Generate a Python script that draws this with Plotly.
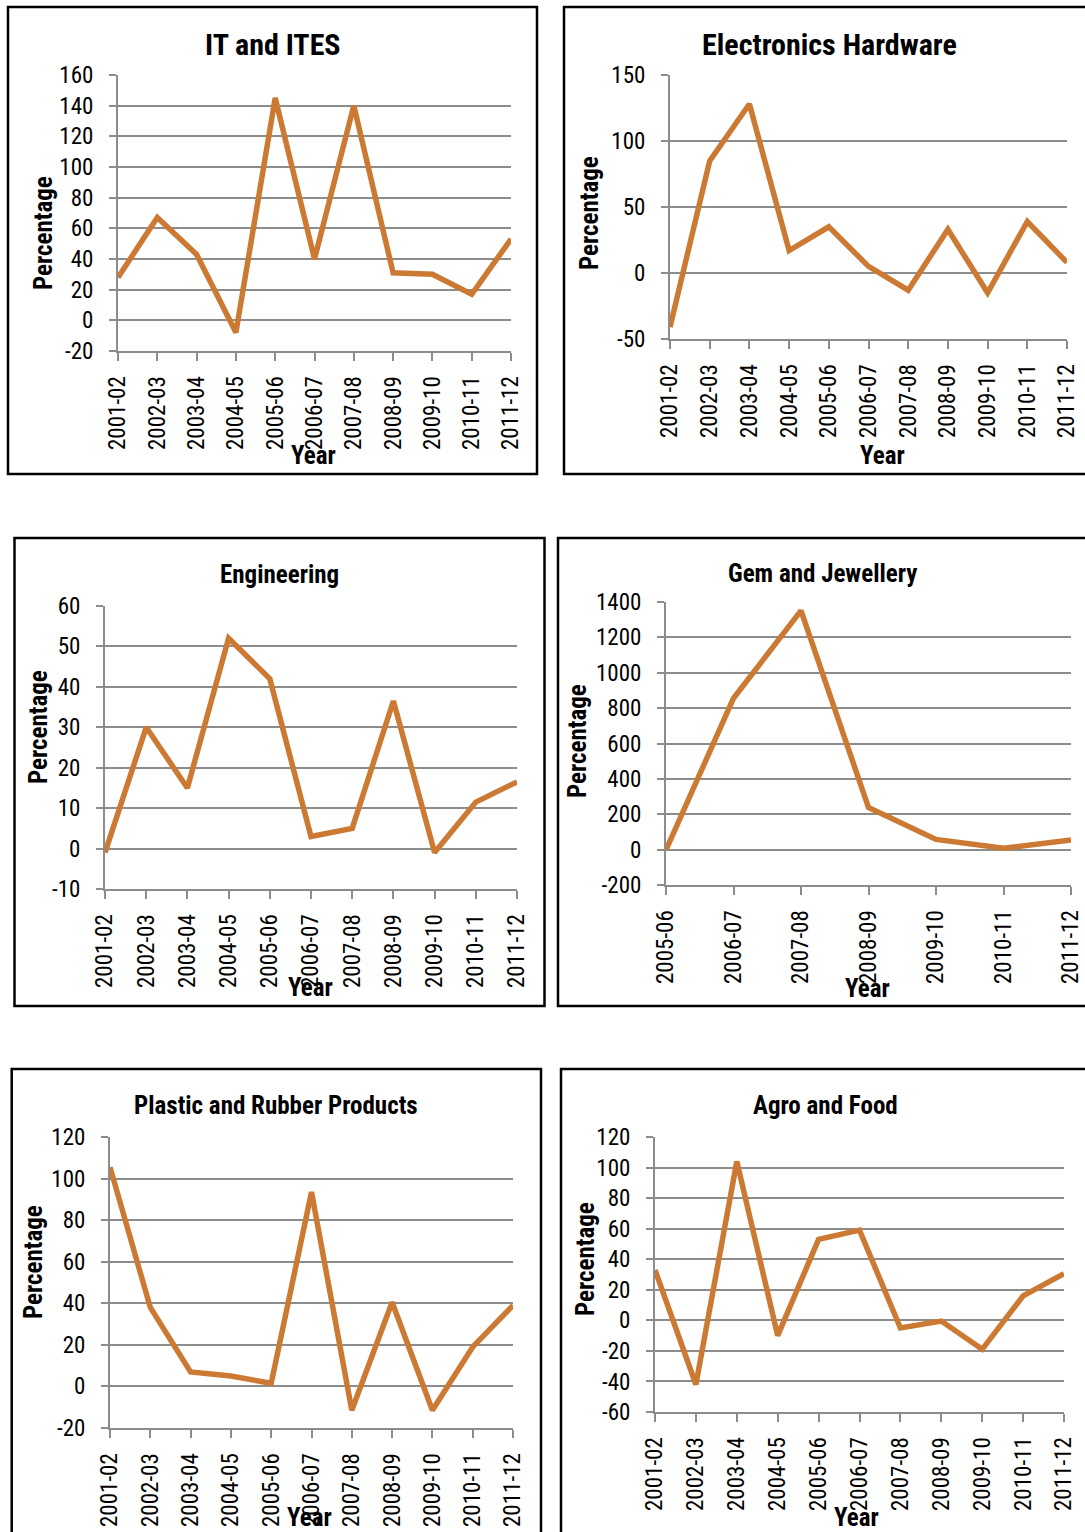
import plotly.graph_objects as go

# ---- data -------------------------------------------------------------
years = ["2001-02", "2002-03", "2003-04", "2004-05", "2005-06", "2006-07",
         "2007-08", "2008-09", "2009-10", "2010-11", "2011-12"]
years_gem = ["2005-06", "2006-07", "2007-08", "2008-09", "2009-10",
             "2010-11", "2011-12"]

it_ites = [28, 67, 43, -8, 145, 40, 140, 31, 30, 17, 53]
electronics_hw = [-41, 85, 128, 17, 35, 5, -13, 33, -15, 39, 8]
engineering = [-1, 30, 15, 52, 42, 3, 5, 36.5, -1, 11.5, 16.5]
gem_jewellery = [-2, 856, 1351, 238, 58, 8, 55]
plastic_rubber = [105.5, 38, 7, 5, 1.5, 93.5, -11.5, 40.5, -11.5, 19, 39]
agro_food = [33, -42, 104, -10, 53, 59, -5, -0.5, -19, 16, 30.5]

titles = ["IT and ITES", "Electronics Hardware", "Engineering",
          "Gem and Jewellery", "Plastic and Rubber Products", "Agro and Food"]

# y-axis tick values per panel (labels use a plain hyphen for negatives)
yticks_it = [-20, 0, 20, 40, 60, 80, 100, 120, 140, 160]
yticks_elec = [-50, 0, 50, 100, 150]
yticks_eng = [-10, 0, 10, 20, 30, 40, 50, 60]
yticks_gem = [-200, 0, 200, 400, 600, 800, 1000, 1200, 1400]
yticks_plastic = [-20, 0, 20, 40, 60, 80, 100, 120]
yticks_agro = [-60, -40, -20, 0, 20, 40, 60, 80, 100, 120]

# ---- page geometry (pixels) -------------------------------------------
W, H = 1085, 1532
FONT = "Roboto Condensed, Open Sans Condensed, DejaVu Sans Condensed, sans-serif"
LINE = "#CC7A33"
GRID = "#8C8C8C"


def fx(x):
    return x / W


def fy(y):
    return 1 - y / H


panels = [
    dict(cats=years, vals=it_ites, yt=yticks_it,
         plot=(118, 511, 75, 351), box=(8, 7, 537, 474),
         title=(273, 45, 30), ylab=(43, 233), xlab=(313, 455)),
    dict(cats=years, vals=electronics_hw, yt=yticks_elec,
         plot=(670, 1067, 75, 339), box=(564, 7, 1092, 474),
         title=(829, 45, 30), ylab=(589, 213), xlab=(882, 455)),
    dict(cats=years, vals=engineering, yt=yticks_eng,
         plot=(105, 517, 606, 889), box=(14.5, 538, 544.5, 1006),
         title=(279, 575, 25), ylab=(38, 727), xlab=(310, 987)),
    dict(cats=years_gem, vals=gem_jewellery, yt=yticks_gem,
         plot=(666, 1071, 602, 885), box=(558, 538, 1092, 1006),
         title=(822, 573, 25), ylab=(577, 741), xlab=(867, 988)),
    dict(cats=years, vals=plastic_rubber, yt=yticks_plastic,
         plot=(110, 513, 1137, 1428), box=(11.7, 1069, 541, 1545),
         title=(276, 1105, 25), ylab=(33, 1262), xlab=(309, 1517)),
    dict(cats=years, vals=agro_food, yt=yticks_agro,
         plot=(655, 1064, 1137, 1412), box=(561, 1069, 1092, 1545),
         title=(826, 1105, 25), ylab=(585, 1259), xlab=(856, 1517)),
]

fig = go.Figure()
shapes, annotations = [], []

for i, (p, title) in enumerate(zip(panels, titles), start=1):
    xa, ya = f"x{i}", f"y{i}"
    xk, yk = ("xaxis" if i == 1 else f"xaxis{i}"), ("yaxis" if i == 1 else f"yaxis{i}")
    x0, x1, y0, y1 = p["plot"]

    fig.add_trace(go.Scatter(
        x=p["cats"], y=p["vals"], mode="lines", xaxis=xa, yaxis=ya,
        line=dict(color=LINE, width=5.5), showlegend=False, hoverinfo="x+y"))

    fig.update_layout(**{
        xk: dict(domain=[fx(x0), fx(x1)], anchor=ya, type="category",
                 range=[0, len(p["cats"]) - 1], showgrid=False,
                 showline=True, linecolor=GRID, linewidth=2,
                 ticks="outside", ticklen=8, tickwidth=2, tickcolor=GRID,
                 tickangle=-90, ticklabelstandoff=6, automargin=False,
                 tickfont=dict(family=FONT, size=23, color="black"),
                 zeroline=False, fixedrange=True),
        yk: dict(domain=[fy(y1), fy(y0)], anchor=xa,
                 range=[p["yt"][0], p["yt"][-1]],
                 tickmode="array", tickvals=p["yt"],
                 ticktext=[str(v) for v in p["yt"]],
                 showgrid=True, gridcolor=GRID, gridwidth=2,
                 showline=True, linecolor=GRID, linewidth=2,
                 ticks="outside", ticklen=7, tickwidth=2, tickcolor=GRID,
                 ticklabelstandoff=11, automargin=False,
                 tickfont=dict(family=FONT, size=23, color="black"),
                 zeroline=False, fixedrange=True),
    })

    bx0, by0, bx1, by1 = p["box"]
    shapes.append(dict(type="rect", xref="paper", yref="paper",
                       x0=fx(bx0), x1=fx(bx1), y0=fy(by1), y1=fy(by0),
                       line=dict(color="black", width=2.5), layer="below"))

    tx, ty, ts = p["title"]
    annotations.append(dict(text=f"<b>{title}</b>", x=fx(tx), y=fy(ty),
                            xref="paper", yref="paper", showarrow=False,
                            xanchor="center", yanchor="middle",
                            font=dict(family=FONT, size=ts, color="black")))
    lx, ly = p["ylab"]
    annotations.append(dict(text="<b>Percentage</b>", x=fx(lx), y=fy(ly),
                            xref="paper", yref="paper", showarrow=False,
                            textangle=-90, xanchor="center", yanchor="middle",
                            font=dict(family=FONT, size=25, color="black")))
    yx, yy = p["xlab"]
    annotations.append(dict(text="<b>Year</b>", x=fx(yx), y=fy(yy),
                            xref="paper", yref="paper", showarrow=False,
                            xanchor="center", yanchor="middle",
                            font=dict(family=FONT, size=25, color="black")))

fig.update_layout(width=W, height=H, margin=dict(l=0, r=0, t=0, b=0, pad=0),
                  paper_bgcolor="white", plot_bgcolor="white",
                  shapes=shapes, annotations=annotations)

# page body without default margins so the figure fills the window exactly
fig.write_html("out.html", config={"displayModeBar": False},
               post_script="document.body.style.margin='0';"
                           "document.body.style.overflow='hidden';")
